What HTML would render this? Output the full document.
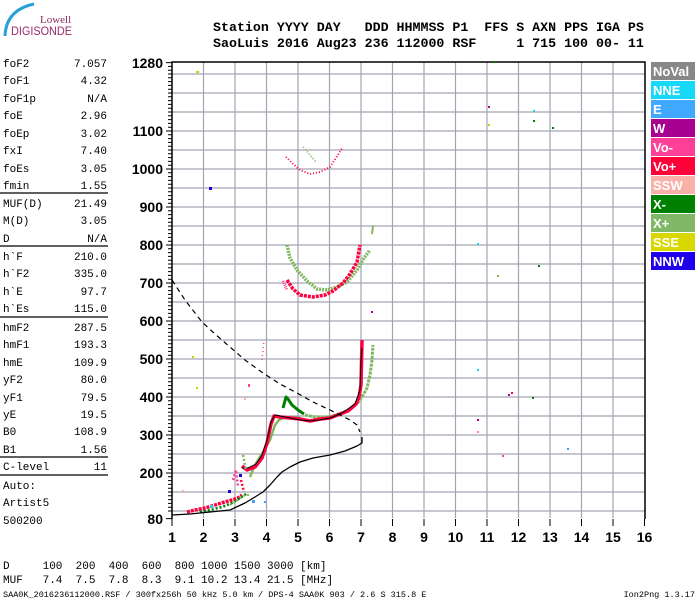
<!DOCTYPE html>
<html><head><meta charset="utf-8"><style>
body{margin:0;background:#fff;}
svg{display:block;}
.m{font-family:"Liberation Mono",monospace;}
.h{font-family:"Liberation Mono",monospace;font-weight:bold;font-size:13.3px;white-space:pre;}
.p{font-family:"Liberation Mono",monospace;font-size:11px;white-space:pre;}
.ax{font-family:"Liberation Sans",sans-serif;font-weight:bold;font-size:14px;}
.lg{font-family:"Liberation Sans",sans-serif;font-weight:bold;font-size:13px;fill:#fff;}
</style></head><body>
<svg width="700" height="600" xmlns="http://www.w3.org/2000/svg">
<!-- logo -->
<path d="M34 4 Q6 10 5 36" stroke="#2a9fd6" stroke-width="3" fill="none"/>
<text x="40" y="23" font-family="Liberation Serif,serif" font-size="11" fill="#8a2a5a">Lowell</text>
<text x="11" y="35" font-family="Liberation Sans,sans-serif" font-size="11.5" fill="#9a2a6a" textLength="61" lengthAdjust="spacingAndGlyphs">DIGISONDE</text>
<!-- header -->
<text x="213" y="31" class="h">Station YYYY DAY   DDD HHMMSS P1  FFS S AXN PPS IGA PS</text>
<text x="213" y="47" class="h">SaoLuis 2016 Aug23 236 112000 RSF     1 715 100 00- 11</text>
<!-- left panel -->
<g class="p">
<text x="3" y="67">foF2</text><text x="107" y="67" text-anchor="end">7.057</text>
<text x="3" y="84">foF1</text><text x="107" y="84" text-anchor="end">4.32</text>
<text x="3" y="102">foF1p</text><text x="107" y="102" text-anchor="end">N/A</text>
<text x="3" y="119">foE</text><text x="107" y="119" text-anchor="end">2.96</text>
<text x="3" y="137">foEp</text><text x="107" y="137" text-anchor="end">3.02</text>
<text x="3" y="154">fxI</text><text x="107" y="154" text-anchor="end">7.40</text>
<text x="3" y="172">foEs</text><text x="107" y="172" text-anchor="end">3.05</text>
<text x="3" y="189">fmin</text><text x="107" y="189" text-anchor="end">1.55</text>
<text x="3" y="207">MUF(D)</text><text x="107" y="207" text-anchor="end">21.49</text>
<text x="3" y="224">M(D)</text><text x="107" y="224" text-anchor="end">3.05</text>
<text x="3" y="242">D</text><text x="107" y="242" text-anchor="end">N/A</text>
<text x="3" y="260">h`F</text><text x="107" y="260" text-anchor="end">210.0</text>
<text x="3" y="277">h`F2</text><text x="107" y="277" text-anchor="end">335.0</text>
<text x="3" y="295">h`E</text><text x="107" y="295" text-anchor="end">97.7</text>
<text x="3" y="312">h`Es</text><text x="107" y="312" text-anchor="end">115.0</text>
<text x="3" y="331">hmF2</text><text x="107" y="331" text-anchor="end">287.5</text>
<text x="3" y="348">hmF1</text><text x="107" y="348" text-anchor="end">193.3</text>
<text x="3" y="366">hmE</text><text x="107" y="366" text-anchor="end">109.9</text>
<text x="3" y="383">yF2</text><text x="107" y="383" text-anchor="end">80.0</text>
<text x="3" y="401">yF1</text><text x="107" y="401" text-anchor="end">79.5</text>
<text x="3" y="418">yE</text><text x="107" y="418" text-anchor="end">19.5</text>
<text x="3" y="435">B0</text><text x="107" y="435" text-anchor="end">108.9</text>
<text x="3" y="453">B1</text><text x="107" y="453" text-anchor="end">1.56</text>
<text x="3" y="470">C-level</text><text x="107" y="470" text-anchor="end">11</text>
<text x="3" y="489">Auto:</text>
<text x="3" y="506">Artist5</text>
<text x="3" y="524">500200</text>
</g>
<g stroke="#000" stroke-width="1.3">
<line x1="0" y1="193" x2="108" y2="193"/><line x1="0" y1="246" x2="108" y2="246"/>
<line x1="0" y1="317" x2="108" y2="317"/><line x1="0" y1="457" x2="108" y2="457"/>
<line x1="0" y1="475" x2="108" y2="475"/>
</g>
<!-- grid -->
<g stroke="#a4a4b4" stroke-width="1.2">
<line x1="203.5" y1="62" x2="203.5" y2="518"/><line x1="235" y1="62" x2="235" y2="518"/><line x1="266.5" y1="62" x2="266.5" y2="518"/><line x1="298" y1="62" x2="298" y2="518"/><line x1="329.5" y1="62" x2="329.5" y2="518"/><line x1="361" y1="62" x2="361" y2="518"/><line x1="392.5" y1="62" x2="392.5" y2="518"/><line x1="424" y1="62" x2="424" y2="518"/><line x1="455.5" y1="62" x2="455.5" y2="518"/><line x1="487" y1="62" x2="487" y2="518"/><line x1="518.5" y1="62" x2="518.5" y2="518"/><line x1="550" y1="62" x2="550" y2="518"/><line x1="581.5" y1="62" x2="581.5" y2="518"/><line x1="613" y1="62" x2="613" y2="518"/>
<line x1="172" y1="511" x2="645" y2="511"/><line x1="172" y1="492" x2="645" y2="492"/><line x1="172" y1="473" x2="645" y2="473"/><line x1="172" y1="454" x2="645" y2="454"/><line x1="172" y1="435" x2="645" y2="435"/><line x1="172" y1="416" x2="645" y2="416"/><line x1="172" y1="397" x2="645" y2="397"/><line x1="172" y1="378" x2="645" y2="378"/><line x1="172" y1="359" x2="645" y2="359"/><line x1="172" y1="340" x2="645" y2="340"/><line x1="172" y1="321" x2="645" y2="321"/><line x1="172" y1="302" x2="645" y2="302"/><line x1="172" y1="283" x2="645" y2="283"/><line x1="172" y1="264" x2="645" y2="264"/><line x1="172" y1="245" x2="645" y2="245"/><line x1="172" y1="226" x2="645" y2="226"/><line x1="172" y1="207" x2="645" y2="207"/><line x1="172" y1="188" x2="645" y2="188"/><line x1="172" y1="169" x2="645" y2="169"/><line x1="172" y1="150" x2="645" y2="150"/><line x1="172" y1="131" x2="645" y2="131"/><line x1="172" y1="112" x2="645" y2="112"/><line x1="172" y1="93" x2="645" y2="93"/><line x1="172" y1="74" x2="645" y2="74"/>
</g>
<!-- frame -->
<g stroke="#000" stroke-width="1.5" fill="none">
<polyline points="172,519 172,62 645,62 645,519"/>
</g>
<!-- ticks -->
<g stroke="#000" stroke-width="1">
<path d="M168 511h4M168 507.2h4M168 503.4h4M168 499.6h4M168 495.8h4M168 492h4M168 488.2h4M168 484.4h4M168 480.6h4M168 476.8h4M166 473h6M168 469.2h4M168 465.4h4M168 461.6h4M168 457.8h4M168 454h4M168 450.2h4M168 446.4h4M168 442.6h4M168 438.8h4M166 435h6M168 431.2h4M168 427.4h4M168 423.6h4M168 419.8h4M168 416h4M168 412.2h4M168 408.4h4M168 404.6h4M168 400.8h4M166 397h6M168 393.2h4M168 389.4h4M168 385.6h4M168 381.8h4M168 378h4M168 374.2h4M168 370.4h4M168 366.6h4M168 362.8h4M166 359h6M168 355.2h4M168 351.4h4M168 347.6h4M168 343.8h4M168 340h4M168 336.2h4M168 332.4h4M168 328.6h4M168 324.8h4M166 321h6M168 317.2h4M168 313.4h4M168 309.6h4M168 305.8h4M168 302h4M168 298.2h4M168 294.4h4M168 290.6h4M168 286.8h4M166 283h6M168 279.2h4M168 275.4h4M168 271.6h4M168 267.8h4M168 264h4M168 260.2h4M168 256.4h4M168 252.6h4M168 248.8h4M166 245h6M168 241.2h4M168 237.4h4M168 233.6h4M168 229.8h4M168 226h4M168 222.2h4M168 218.4h4M168 214.6h4M168 210.8h4M166 207h6M168 203.2h4M168 199.4h4M168 195.6h4M168 191.8h4M168 188h4M168 184.2h4M168 180.4h4M168 176.6h4M168 172.8h4M166 169h6M168 165.2h4M168 161.4h4M168 157.6h4M168 153.8h4M168 150h4M168 146.2h4M168 142.4h4M168 138.6h4M168 134.8h4M166 131h6M168 127.2h4M168 123.4h4M168 119.6h4M168 115.8h4M168 112h4M168 108.2h4M168 104.4h4M168 100.6h4M168 96.8h4M168 93h4M168 89.2h4M168 85.4h4M168 81.6h4M168 77.8h4M168 74h4M168 70.2h4M168 66.4h4M166 62.6h6M166 518.6h6"/>
<path d="M172 519v7M203.5 519v7M235 519v7M266.5 519v7M298 519v7M329.5 519v7M361 519v7M392.5 519v7M424 519v7M455.5 519v7M487 519v7M518.5 519v7M550 519v7M581.5 519v7M613 519v7M644.5 519v7"/>
</g>
<g class="ax" text-anchor="end">
<text x="163" y="68">1280</text><text x="163" y="136">1100</text><text x="163" y="174">1000</text><text x="163" y="212">900</text><text x="163" y="250">800</text><text x="163" y="288">700</text><text x="163" y="326">600</text><text x="163" y="364">500</text><text x="163" y="402">400</text><text x="163" y="440">300</text><text x="163" y="478">200</text><text x="163" y="524">80</text>
</g>
<g class="ax" text-anchor="middle">
<text x="172" y="542">1</text><text x="203.5" y="542">2</text><text x="235" y="542">3</text><text x="266.5" y="542">4</text><text x="298" y="542">5</text><text x="329.5" y="542">6</text><text x="361" y="542">7</text><text x="392.5" y="542">8</text><text x="424" y="542">9</text><text x="455.5" y="542">10</text><text x="487" y="542">11</text><text x="518.5" y="542">12</text><text x="550" y="542">13</text><text x="581.5" y="542">14</text><text x="613" y="542">15</text><text x="644.5" y="542">16</text>
</g>
<!-- data traces -->
<g fill="none" stroke-linejoin="round">
<polyline points="287,245 290,258 297,270 307,281 317,289 327,290 337,287 347,282 357,270 364,258 370,250" stroke="#80b860" stroke-width="3.5" stroke-dasharray="2 1"/>
<polyline points="372,234 373,226" stroke="#80b860" stroke-width="2"/>
<polyline points="287,280 293,289 300,295 313,297 325,295 333,291 343,283 350,274 357,262 360,245" stroke="#ff0040" stroke-width="3.5" stroke-dasharray="3 1"/>
<polyline points="283,281 287,290" stroke="#ff4090" stroke-width="3" stroke-dasharray="1 1"/>
<polyline points="286,157 292,163 300,170 310,174 320,172 330,167 343,147" stroke="#ff0040" stroke-width="2" stroke-dasharray="1 2"/>
<polyline points="303,147 310,155 316,162" stroke="#80b860" stroke-width="2" stroke-dasharray="1 2"/>
<polyline points="250,477 255,465 263,452 270,440 275,425 279,420 283,418 290,418 300,417" stroke="#80b860" stroke-width="2.5"/>
<polyline points="283,408 286,397 288,399 292,405 298,410 304,414" stroke="#008000" stroke-width="3"/>
<polyline points="305,415 315,417 328,417 340,414 350,409 357,404 362,397 367,388 370,375 372,360 373,345" stroke="#80b860" stroke-width="3" stroke-dasharray="3 1"/>
<polyline points="242,466 247,470 255,467 262,458 267,443 271,424 274,416 280,417 290,418 300,419 310,421 320,419 330,418 340,414 348,411 356,404 359,397 361,385 362,340" stroke="#ff0040" stroke-width="3.5"/>
<polyline points="242,468 248,468 256,464 262,455 267,440 271,422 275,415 290,418 300,420 310,421 320,420 330,418 342,413 355,404 360,390 361,360 362,348" stroke="#000" stroke-width="1"/>
<polyline points="187,512 195,510 205,508 215,505 225,502 232,500 238,498 242,495" stroke="#ff0040" stroke-width="3.5" stroke-dasharray="3 1"/>
<polyline points="200,512 210,510 222,507 232,503 240,498 246,494" stroke="#008000" stroke-width="2.5" stroke-dasharray="2 2"/>
<polyline points="230,505 238,500 245,495 250,495" stroke="#80b860" stroke-width="2" stroke-dasharray="2 2"/>
<polyline points="233,480 236,470 238,487" stroke="#ff4090" stroke-width="2.5" stroke-dasharray="2 2"/>
<polyline points="241,480 244,492" stroke="#ff0040" stroke-width="2.5" stroke-dasharray="2 2"/>
<polyline points="243,455 246,470" stroke="#80b860" stroke-width="2.5" stroke-dasharray="2 2"/>
<polyline points="262,360 264,340" stroke="#ff4090" stroke-width="1.5" stroke-dasharray="1 3"/>
<polyline points="172,515 190,514 210,512 230,510 245,503 255,497 263,492 270,485 277,477 282,472 290,467 300,462 313,458 330,455 345,451 357,446 362,443 362,437" stroke="#000" stroke-width="1.3"/>
<polyline points="172,280 185,300 202,322 215,334 230,347 245,360 263,373 280,384 297,393 313,402 330,410 340,415 350,420 357,425 360,432" stroke="#000" stroke-width="1.2" stroke-dasharray="5 4"/>
</g>
<g>
<rect x="494" y="61" width="2" height="2" fill="#008000"/><rect x="488" y="106" width="2" height="2" fill="#c0008a"/><rect x="533" y="110" width="2" height="2" fill="#20d0f0"/><rect x="488" y="124" width="2" height="2" fill="#d0d000"/><rect x="533" y="120" width="2" height="2" fill="#008000"/><rect x="552" y="127" width="2" height="2" fill="#008000"/><rect x="209" y="187" width="3" height="3" fill="#2000e0"/><rect x="196" y="71" width="3" height="2" fill="#d0d000"/><rect x="477" y="243" width="2" height="2" fill="#20d0f0"/><rect x="497" y="275" width="2" height="2" fill="#80b860"/><rect x="538" y="265" width="2" height="2" fill="#008000"/><rect x="371" y="311" width="2" height="2" fill="#a000a0"/><rect x="477" y="369" width="2" height="2" fill="#20d0f0"/><rect x="511" y="392" width="2" height="2" fill="#ff0040"/><rect x="508" y="394" width="2" height="2" fill="#c0008a"/><rect x="532" y="397" width="2" height="2" fill="#008000"/><rect x="477" y="419" width="2" height="2" fill="#c0008a"/><rect x="477" y="431" width="2" height="2" fill="#ff80b0"/><rect x="502" y="455" width="2" height="2" fill="#ff4090"/><rect x="567" y="448" width="2" height="2" fill="#40a0ff"/><rect x="182" y="490" width="2" height="2" fill="#ffb0a8"/><rect x="192" y="356" width="2" height="2" fill="#d0d000"/><rect x="196" y="387" width="2" height="2" fill="#d0d000"/><rect x="228" y="490" width="3" height="3" fill="#2000e0"/><rect x="210" y="505" width="3" height="3" fill="#20d0f0"/><rect x="252" y="500" width="3" height="3" fill="#40a0ff"/><rect x="239" y="474" width="3" height="3" fill="#2000e0"/><rect x="264" y="501" width="2" height="2" fill="#40a0ff"/><rect x="244" y="398" width="2" height="2" fill="#ffb0a8"/><rect x="248" y="384" width="2" height="3" fill="#ff4090"/>
</g>
<g>
<rect x="651" y="62" width="44" height="18" fill="#888"/><text x="653" y="76" class="lg">NoVal</text>
<rect x="651" y="81" width="44" height="18" fill="#18d8f8"/><text x="653" y="95" class="lg">NNE</text>
<rect x="651" y="100" width="44" height="18" fill="#40a8ff"/><text x="653" y="114" class="lg">E</text>
<rect x="651" y="119" width="44" height="18" fill="#a80090"/><text x="653" y="133" class="lg">W</text>
<rect x="651" y="138" width="44" height="18" fill="#ff4098"/><text x="653" y="152" class="lg">Vo-</text>
<rect x="651" y="157" width="44" height="18" fill="#ff0038"/><text x="653" y="171" class="lg">Vo+</text>
<rect x="651" y="176" width="44" height="18" fill="#f8b0a8"/><text x="653" y="190" class="lg">SSW</text>
<rect x="651" y="195" width="44" height="18" fill="#008000"/><text x="653" y="209" class="lg">X-</text>
<rect x="651" y="214" width="44" height="18" fill="#80b868"/><text x="653" y="228" class="lg">X+</text>
<rect x="651" y="233" width="44" height="18" fill="#d8d800"/><text x="653" y="247" class="lg">SSE</text>
<rect x="651" y="252" width="44" height="18" fill="#2000e8"/><text x="653" y="266" class="lg">NNW</text>
</g>
<text x="3" y="569" class="p">D     100  200  400  600  800 1000 1500 3000 [km]</text>
<text x="3" y="583" class="p">MUF   7.4  7.5  7.8  8.3  9.1 10.2 13.4 21.5 [MHz]</text>
<text x="3" y="597" class="m" font-size="8.5" style="white-space:pre">SAA0K_2016236112000.RSF / 300fx256h 50 kHz 5.0 km / DPS-4 SAA0K 903 / 2.6 S 315.8 E</text>
<text x="695" y="597" class="m" font-size="8.5" text-anchor="end">Ion2Png 1.3.17</text>
</svg>
</body></html>
